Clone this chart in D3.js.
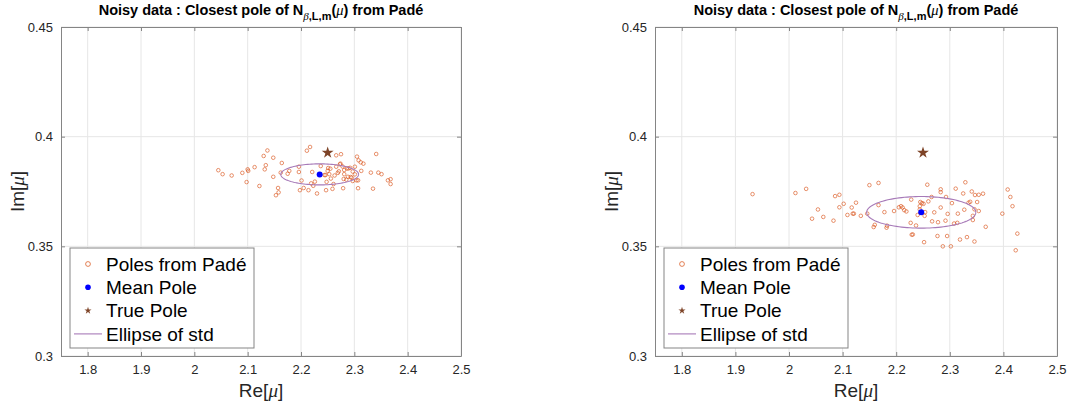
<!DOCTYPE html>
<html>
<head>
<meta charset="utf-8">
<script src="https://cdn.jsdelivr.net/npm/d3@7"></script>
<style>
  html, body { margin: 0; padding: 0; background: #fff; }
  svg text { font-family: "Liberation Sans", Arial, Helvetica, sans-serif; }
</style>
</head>
<body>
<svg id="fig" width="1089" height="408"></svg>
<script>
// ---- data: closest Padé poles for two noisy runs ----
const leftRe = [2.045,2.053,2.070,2.090,2.098,2.100,2.101,2.113,2.122,2.130,2.132,2.134,2.137,2.148,2.148,2.157,2.158,2.153,2.164,2.162,2.175,2.178,2.196,2.196,2.201,2.198,2.205,2.211,2.217,2.214,2.219,2.221,2.223,2.226,2.230,2.237,2.244,2.246,2.247,2.248,2.251,2.250,2.255,2.253,2.256,2.259,2.261,2.263,2.266,2.266,2.269,2.271,2.273,2.274,2.275,2.278,2.279,2.280,2.281,2.281,2.285,2.286,2.288,2.289,2.292,2.293,2.295,2.297,2.297,2.301,2.301,2.304,2.305,2.307,2.307,2.308,2.312,2.313,2.317,2.331,2.335,2.341,2.345,2.351,2.363,2.368,2.368];
const leftIm = [0.3847,0.3829,0.3823,0.3835,0.3793,0.3851,0.3844,0.3861,0.3775,0.3912,0.3851,0.3870,0.3937,0.3904,0.3817,0.3766,0.3746,0.3733,0.3880,0.3836,0.3831,0.3844,0.3863,0.3839,0.3800,0.3756,0.3766,0.3936,0.3953,0.3756,0.3787,0.3839,0.3776,0.3795,0.3741,0.3866,0.3825,0.3825,0.3756,0.3794,0.3857,0.3844,0.3854,0.3829,0.3809,0.3762,0.3784,0.3823,0.3915,0.3863,0.3835,0.3842,0.3874,0.3877,0.3920,0.3864,0.3765,0.3807,0.3829,0.3848,0.3804,0.3855,0.3817,0.3855,0.3858,0.3816,0.3813,0.3841,0.3798,0.3863,0.3828,0.3801,0.3909,0.3801,0.3765,0.3892,0.3883,0.3844,0.3877,0.3836,0.3763,0.3921,0.3836,0.3829,0.3801,0.3806,0.3784];

const rightRe = [1.932,2.012,2.032,2.043,2.054,2.064,2.083,2.086,2.094,2.094,2.102,2.109,2.117,2.119,2.121,2.125,2.134,2.146,2.150,2.158,2.160,2.167,2.167,2.178,2.182,2.183,2.196,2.205,2.209,2.212,2.215,2.219,2.227,2.228,2.229,2.231,2.237,2.240,2.244,2.244,2.245,2.248,2.251,2.252,2.253,2.254,2.258,2.260,2.267,2.266,2.271,2.277,2.278,2.283,2.283,2.283,2.287,2.292,2.293,2.295,2.296,2.302,2.304,2.308,2.311,2.314,2.315,2.319,2.325,2.327,2.329,2.332,2.335,2.338,2.343,2.343,2.341,2.346,2.346,2.347,2.351,2.354,2.354,2.362,2.367,2.398,2.408,2.413,2.417,2.426,2.423];
const rightIm = [0.3738,0.3743,0.3762,0.3626,0.3668,0.3634,0.3617,0.3729,0.3735,0.3678,0.3694,0.3643,0.3677,0.3649,0.3649,0.3699,0.3639,0.3649,0.3779,0.3588,0.3598,0.3789,0.3688,0.3656,0.3585,0.3594,0.3661,0.3678,0.3683,0.3677,0.3665,0.3659,0.3607,0.3713,0.3553,0.3554,0.3595,0.3643,0.3668,0.3683,0.3702,0.3697,0.3694,0.3519,0.3639,0.3656,0.3781,0.3705,0.3614,0.3725,0.3655,0.3547,0.3610,0.3760,0.3747,0.3677,0.3500,0.3617,0.3725,0.3547,0.3648,0.3500,0.3697,0.3604,0.3763,0.3607,0.3649,0.3531,0.3741,0.3667,0.3792,0.3542,0.3699,0.3703,0.3639,0.3620,0.3750,0.3522,0.3669,0.3734,0.3702,0.3735,0.3661,0.3740,0.3589,0.3649,0.3759,0.3725,0.3683,0.3558,0.3482];

// mean pole [Re, Im], true pole [Re, Im], std of the poles [Re, Im]
const leftMean = [2.235, 0.3828];
const rightMean = [2.2467, 0.3655];
const truePole = [2.25, 0.3927];
const leftStd = [0.0729, 0.0048];
const rightStd = [0.1018, 0.0072];

const xTicks = [1.8, 1.9, 2.0, 2.1, 2.2, 2.3, 2.4, 2.5];
const yTicks = [0.3, 0.35, 0.4, 0.45];
const xDomain = [1.75, 2.5];
const yDomain = [0.3, 0.45];
const legendLabels = ["Poles from Padé", "Mean Pole", "True Pole", "Ellipse of std"];

// ---- styling ----
const C_POLE = "#D95319";
const C_MEAN = "#0000FF";
const C_TRUE = "#7E4428";
const C_ELL = "#A77AB8";
const C_AXIS = "#858585";
const C_GRID = "#E6E6E6";
const C_TEXT = "#262626";

const svg = d3.select("#fig");
const fmt = d => String(+d.toFixed(3));

function drawPanel(p) {
  const x = d3.scaleLinear().domain(xDomain).range([p.left, p.right]);
  const y = d3.scaleLinear().domain(yDomain).range([p.bottom, p.top]);
  const g = svg.append("g");

  // grid
  g.append("g").selectAll("line").data(xTicks).join("line")
    .attr("x1", d => x(d)).attr("x2", d => x(d))
    .attr("y1", p.top).attr("y2", p.bottom)
    .attr("stroke", C_GRID).attr("stroke-width", 1);
  g.append("g").selectAll("line").data(yTicks).join("line")
    .attr("x1", p.left).attr("x2", p.right)
    .attr("y1", d => y(d)).attr("y2", d => y(d))
    .attr("stroke", C_GRID).attr("stroke-width", 1);

  // axes (ticks pointing inwards, box on)
  const bottom = g.append("g").attr("transform", `translate(0,${p.bottom})`)
    .call(d3.axisBottom(x).tickValues(xTicks).tickFormat(fmt).tickSizeInner(-4).tickSizeOuter(0).tickPadding(9));
  const top = g.append("g").attr("transform", `translate(0,${p.top})`)
    .call(d3.axisTop(x).tickValues(xTicks).tickFormat("").tickSizeInner(-4).tickSizeOuter(0));
  const left = g.append("g").attr("transform", `translate(${p.left},0)`)
    .call(d3.axisLeft(y).tickValues(yTicks).tickFormat(fmt).tickSizeInner(-4).tickSizeOuter(0).tickPadding(8));
  const right = g.append("g").attr("transform", `translate(${p.right},0)`)
    .call(d3.axisRight(y).tickValues(yTicks).tickFormat("").tickSizeInner(-4).tickSizeOuter(0));
  [bottom, top, left, right].forEach(a => {
    a.select(".domain").attr("stroke", C_AXIS);
    a.selectAll(".tick line").attr("stroke", C_AXIS);
    a.selectAll(".tick text").attr("fill", C_TEXT).attr("font-size", 13)
      .attr("font-family", "'Liberation Sans', Arial, sans-serif");
  });

  // poles from Padé
  const pts = d3.zip(p.re, p.im);
  g.append("g").selectAll("circle").data(pts).join("circle")
    .attr("cx", d => x(d[0])).attr("cy", d => y(d[1])).attr("r", 1.8)
    .attr("fill", "none").attr("stroke", C_POLE).attr("stroke-opacity", 0.75).attr("stroke-width", 0.85);

  // ellipse of std around the mean
  const th = d3.range(0, 361, 3).map(a => a * Math.PI / 180);
  g.append("path")
    .datum(th)
    .attr("d", d3.line()
      .x(t => x(p.mean[0] + p.std[0] * Math.cos(t)))
      .y(t => y(p.mean[1] + p.std[1] * Math.sin(t))))
    .attr("fill", "none").attr("stroke", C_ELL).attr("stroke-width", 1.1);

  // mean and true pole
  g.append("circle").attr("cx", x(p.mean[0])).attr("cy", y(p.mean[1])).attr("r", 3).attr("fill", C_MEAN);
  g.append("path").attr("d", d3.symbol(d3.symbolStar, 44)())
    .attr("transform", `translate(${x(truePole[0])},${y(truePole[1])})`).attr("fill", C_TRUE);

  // title
  const cx = (p.left + p.right) / 2;
  const t = g.append("text").attr("x", cx).attr("y", 15).attr("text-anchor", "middle")
    .attr("font-size", 14.5).attr("font-weight", "bold").attr("fill", "#000");
  t.append("tspan").text("Noisy data : Closest pole of N");
  t.append("tspan").attr("dy", 5).attr("font-size", 11).attr("font-style", "italic")
    .attr("font-weight", "normal").attr("font-family", "'Liberation Serif', serif").text("β");
  t.append("tspan").attr("font-size", 11).text(",L,m");
  t.append("tspan").attr("dy", -5).text("(");
  t.append("tspan").attr("font-style", "italic").attr("font-weight", "normal")
    .attr("font-family", "'Liberation Serif', serif").text("μ");
  t.append("tspan").text(") from Padé");

  // axis labels
  const xl = g.append("text").attr("x", cx).attr("y", 397).attr("text-anchor", "middle")
    .attr("font-size", 19).attr("fill", C_TEXT);
  xl.append("tspan").text("Re[");
  xl.append("tspan").attr("font-family", "'Liberation Serif', serif").attr("font-style", "italic").text("μ");
  xl.append("tspan").text("]");

  const yl = g.append("text").attr("transform", `translate(${p.left - 37},${(p.top + p.bottom) / 2}) rotate(-90)`)
    .attr("text-anchor", "middle").attr("font-size", 19).attr("fill", C_TEXT);
  yl.append("tspan").text("Im[");
  yl.append("tspan").attr("font-family", "'Liberation Serif', serif").attr("font-style", "italic").text("μ");
  yl.append("tspan").text("]");

  // legend
  const lx = p.left + 9, ly = 248, lw = 184, lh = 100;
  const lg = g.append("g");
  lg.append("rect").attr("x", lx).attr("y", ly).attr("width", lw).attr("height", lh)
    .attr("fill", "#fff").attr("stroke", C_AXIS).attr("stroke-width", 1);
  const rowY = i => ly + 16 + i * 23.3;
  const mx = lx + 18;
  lg.append("circle").attr("cx", mx).attr("cy", rowY(0)).attr("r", 2.4)
    .attr("fill", "none").attr("stroke", C_POLE).attr("stroke-opacity", 0.8).attr("stroke-width", 0.9);
  lg.append("circle").attr("cx", mx).attr("cy", rowY(1)).attr("r", 2.8).attr("fill", C_MEAN);
  lg.append("path").attr("d", d3.symbol(d3.symbolStar, 16)())
    .attr("transform", `translate(${mx},${rowY(2)})`).attr("fill", C_TRUE);
  lg.append("line").attr("x1", lx + 4).attr("x2", lx + 32).attr("y1", rowY(3)).attr("y2", rowY(3))
    .attr("stroke", C_ELL).attr("stroke-width", 1.1);
  lg.selectAll("text.lab").data(legendLabels).join("text").attr("class", "lab")
    .attr("x", lx + 36).attr("y", (d, i) => rowY(i) + 6.8)
    .attr("font-size", 19).attr("fill", "#000").text(d => d);
}

drawPanel({ left: 61, right: 461, top: 27, bottom: 356, re: leftRe, im: leftIm, mean: leftMean, std: leftStd });
drawPanel({ left: 655, right: 1057, top: 27, bottom: 356, re: rightRe, im: rightIm, mean: rightMean, std: rightStd });
</script>
</body>
</html>
